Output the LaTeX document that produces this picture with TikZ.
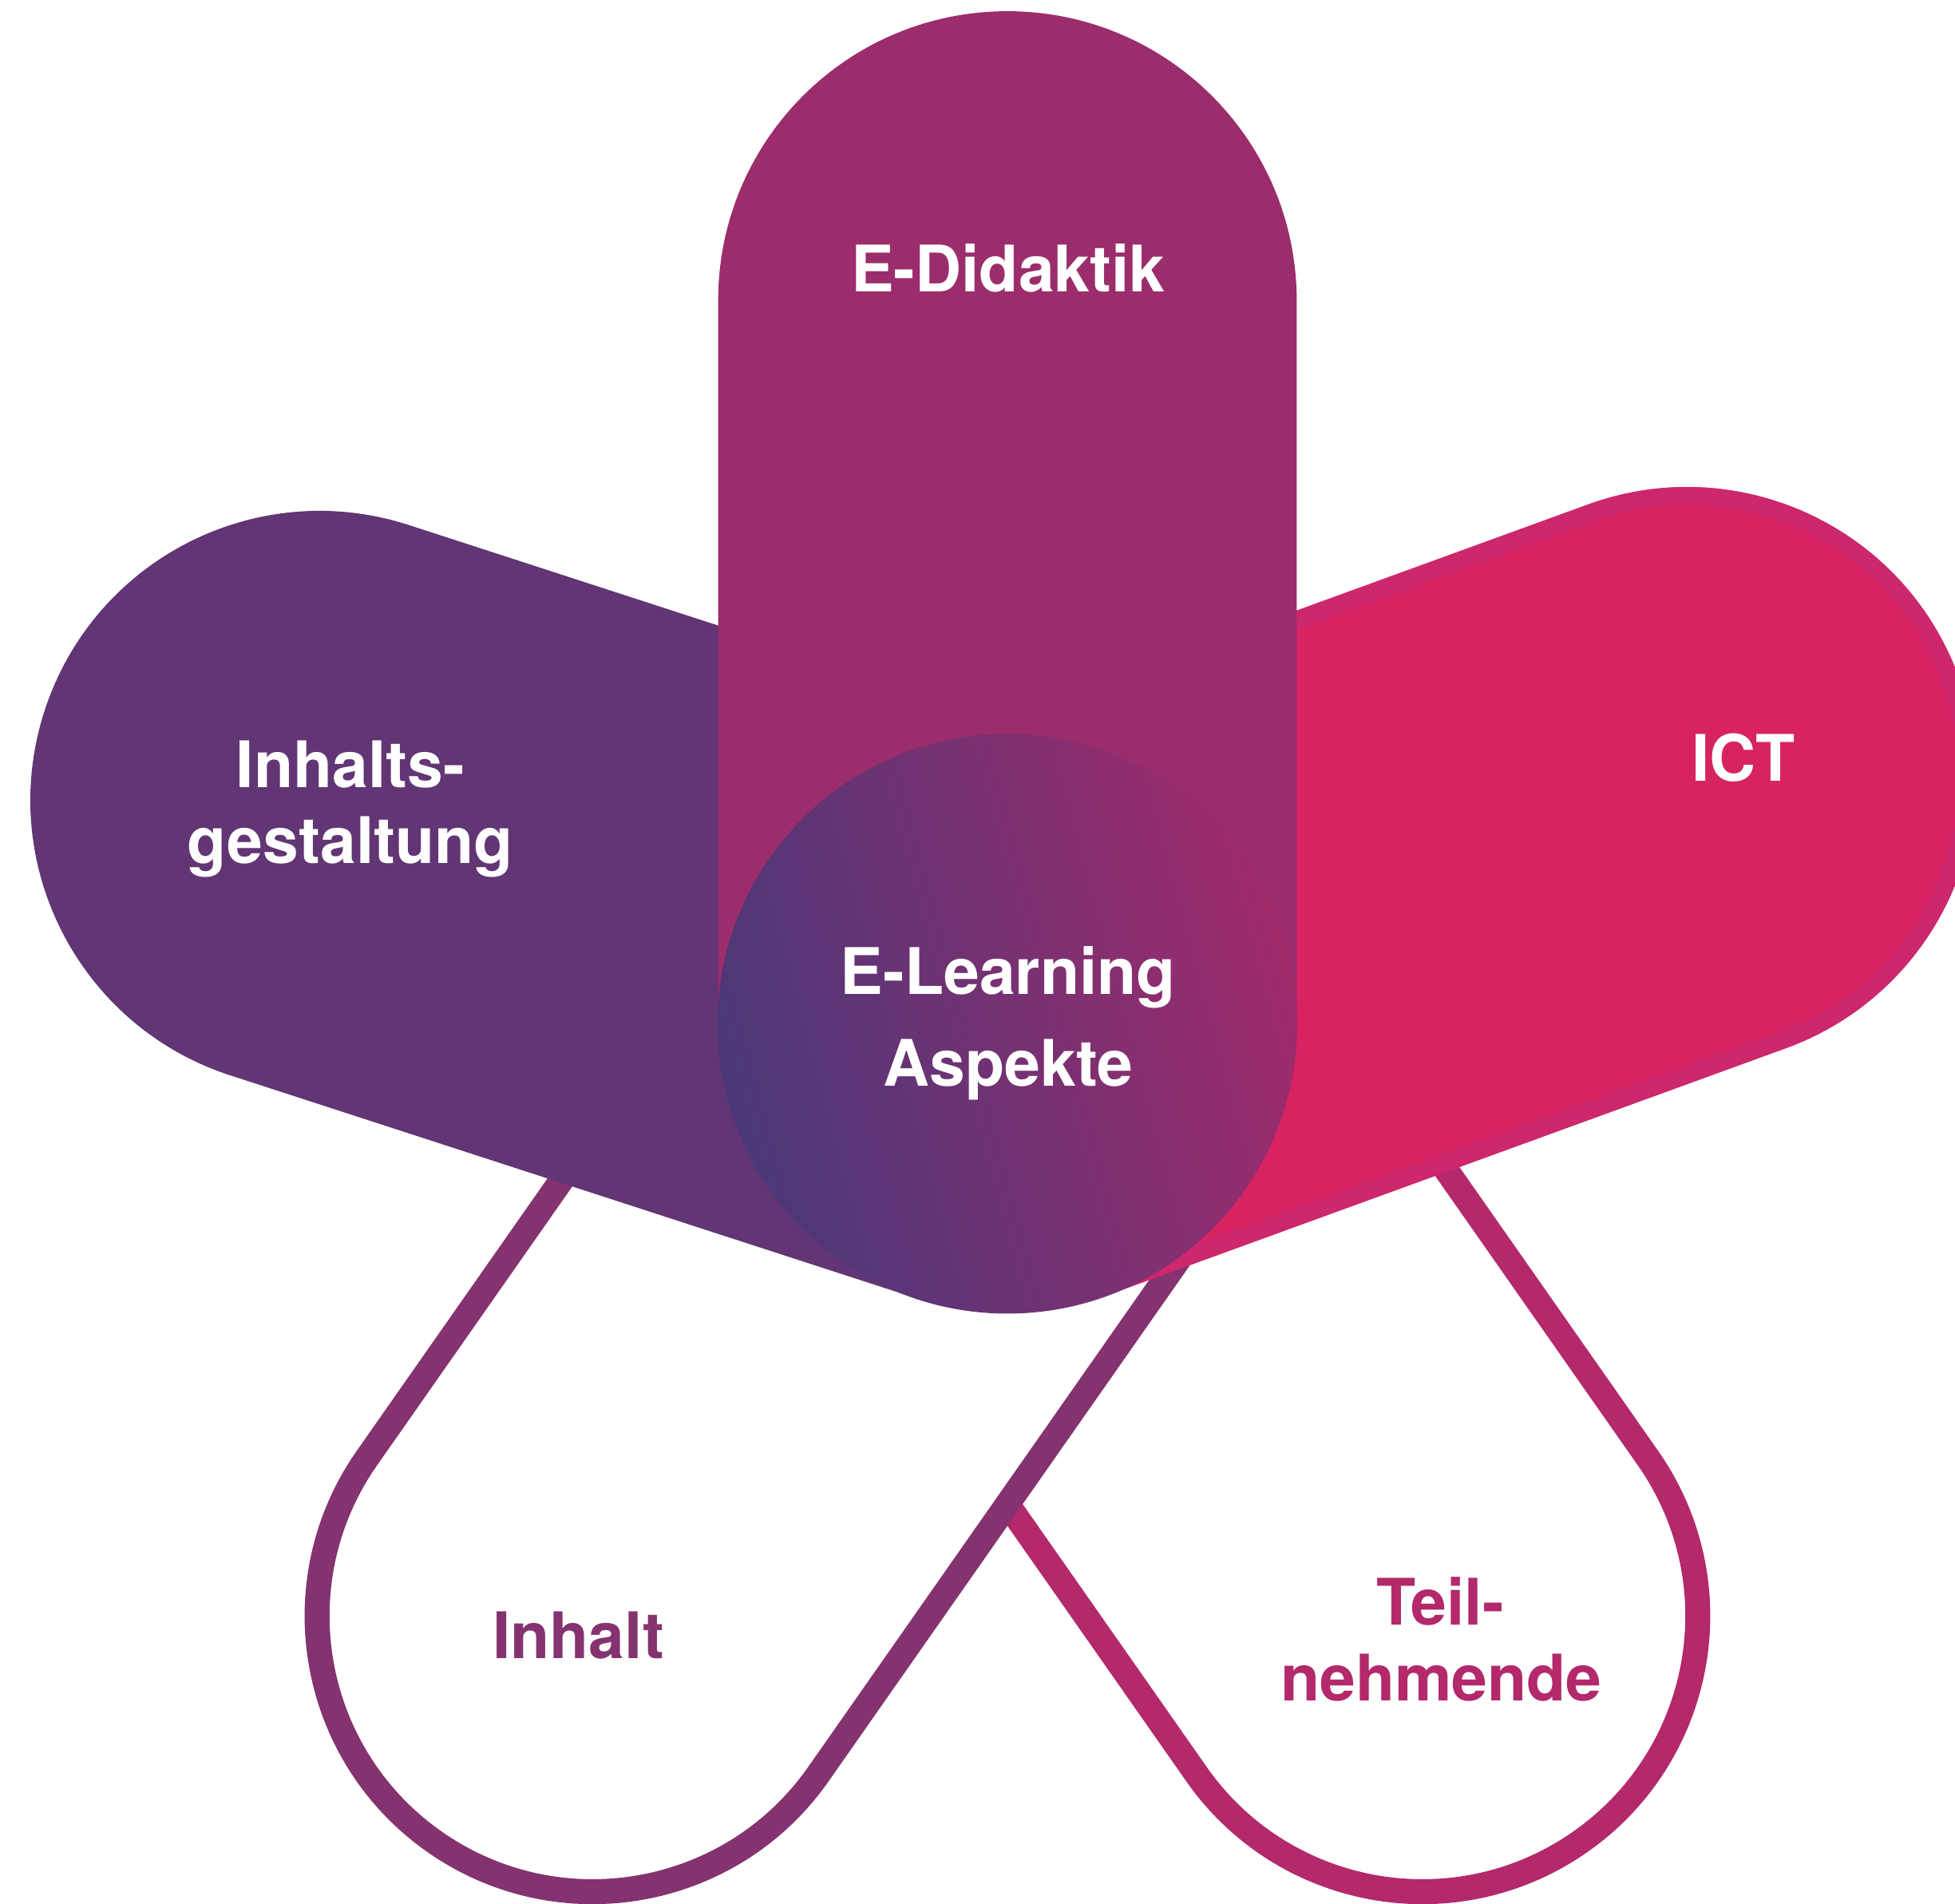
\documentclass[tikz,border=0pt]{standalone}
\usepackage{fontspec}
\setmainfont{TeX Gyre Heros}
\definecolor{cdid}{HTML}{9C2D6C}
\definecolor{cgest}{HTML}{623574}
\definecolor{cict}{HTML}{D82363}
\definecolor{cictband}{HTML}{CD276E}
\definecolor{cinh}{HTML}{843370}
\definecolor{cteil}{HTML}{B3296B}
\definecolor{gdark}{HTML}{4A3879}
\definecolor{glight}{HTML}{A02B6B}
\newcommand\petalpath[2]{(0,-#1) -- (#2,-#1) arc[start angle=-90,end angle=90,radius=#1] -- (0,#1) arc[start angle=90,end angle=270,radius=#1] -- cycle}
\begin{document}
\begin{tikzpicture}[x=1pt,y=-1pt,
  lbl/.style={font=\fontsize{51.5}{60}\selectfont\bfseries, text=white, inner sep=0pt, anchor=base},
  outlinepetal/.style={fill=white, line width=20pt, line join=round}]
\useasboundingbox (0,0) rectangle (1568,1527);
\clip (0,0) rectangle (1568,1527);
\coordinate (c) at (808,821);
% outlined petals
\begin{scope}[shift={(c)}, rotate=305]
  \draw[outlinepetal, draw=cteil] \petalpath{221}{580};
\end{scope}
\begin{scope}[shift={(c)}, rotate=235]
  \draw[outlinepetal, draw=cinh] \petalpath{221}{580};
\end{scope}
% ICT petal with its lighter rim just inside the outline
\begin{scope}[shift={(c)}, rotate=20]
  \fill[cict] \petalpath{232}{580};
  \draw[cictband, line width=14pt] (0,-225) -- (580,-225) arc[start angle=-90,end angle=90,radius=225] -- (0,225);
\end{scope}
% filled petals
\begin{scope}[shift={(c)}, rotate=162]
  \fill[cgest] \petalpath{232}{580};
\end{scope}
\begin{scope}[shift={(c)}, rotate=90]
  \fill[cdid] \petalpath{232}{580};
\end{scope}
% centre
\shade[left color=gdark, right color=glight, shading angle=105] (c) circle[radius=232.5];
% labels
\node[lbl] (edid) at (808.5,233.7) {E-Didaktik};
\node[lbl] (gest1) at (281,631.8) {Inhalts-};
\node[lbl] (gest2) at (281,692.6) {gestaltung};
\node[lbl] (ict) at (1398.4,626.8) {ICT};
\node[lbl] (elearn1) at (808.6,797.6) {E-Learning};
\node[lbl] (elearn2) at (808.6,870.8) {Aspekte};
\node[lbl, text=cinh] (inhalt) at (463.9,1330.2) {Inhalt};
\node[lbl, text=cteil] (teil1) at (1155,1303) {Teil-};
\node[lbl, text=cteil] (teil2) at (1156,1364) {nehmende};
\end{tikzpicture}
\end{document}
